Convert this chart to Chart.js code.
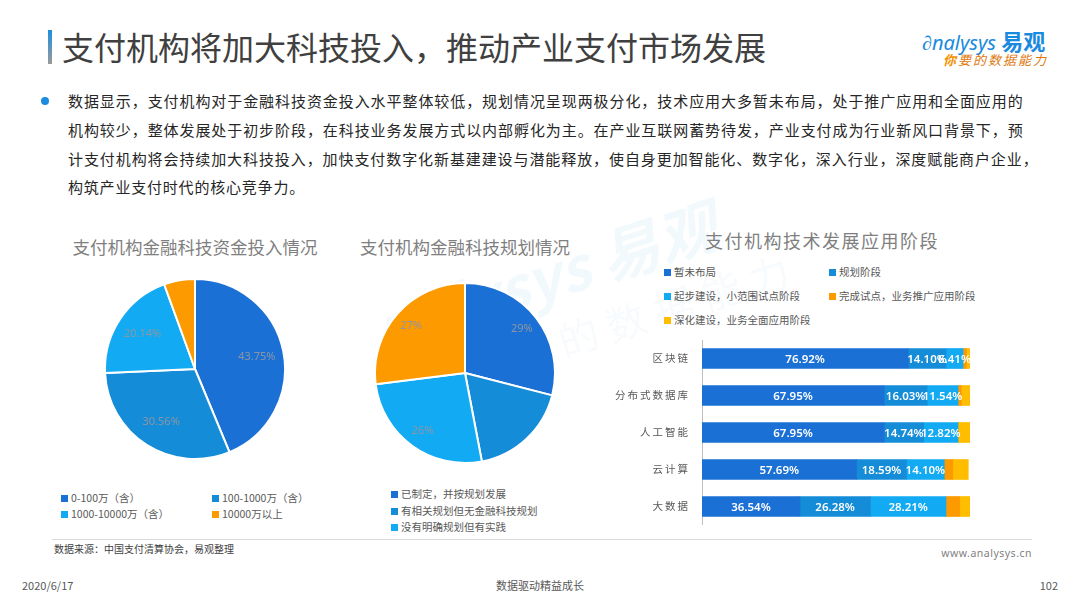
<!DOCTYPE html>
<html>
<head>
<meta charset="utf-8">
<script src="https://cdn.jsdelivr.net/npm/chart.js@4.4.0/dist/chart.umd.min.js"></script>
<style>
body { margin: 0; background: #fff; font-family: "Noto Sans CJK SC", "Noto Sans", sans-serif; }
#page { position: relative; width: 1080px; height: 608px; overflow: hidden; background: #fff; }
.abs { position: absolute; white-space: nowrap; }
.para { left: 68px; width: 960px; font-size: 15px; line-height: 20px; color: #262626; letter-spacing: 0.3px; text-align: justify; text-align-last: justify; }
.ctitle { font-size: 17.5px; color: #7f7f7f; text-align: center; line-height: 24px; }
.leg { font-size: 10.5px; color: #595959; line-height: 14px; }
.leg i { display: inline-block; width: 7px; height: 7px; margin-right: 3px; vertical-align: 0px; }
canvas { position: absolute; }
</style>
</head>
<body>
<div id="page">

  <!-- faint watermark behind everything -->
  <div class="abs" style="left:350px; top:292px; transform:rotate(-18deg); transform-origin:left top; color:rgba(25,140,220,0.055); font-size:60px; font-weight:bold; font-style:italic; font-family:'Noto Sans CJK SC';">&nbsp;nalysys 易观</div>
  <div class="abs" style="left:455px; top:345px; transform:rotate(-18deg); transform-origin:left top; color:rgba(25,140,220,0.055); font-size:40px; font-family:'Noto Sans CJK SC'; letter-spacing:10px;">你要的数据能力</div>

  <div class="abs" style="left:48px; top:30px; width:4px; height:34px; background:linear-gradient(#1e8fe0, #9a9a9a);"></div>
  <div class="abs" style="left:62px; top:27px; font-size:32px; line-height:38px; color:#404040;">支付机构将加大科技投入，推动产业支付市场发展</div>

  <div class="abs" style="left:922px; top:27px; font-size:20px; line-height:26px; color:#1a8ae0; font-style:italic; font-family:'Noto Sans';">&#x2202;nalysys <b style="font-style:normal; font-family:'Noto Sans CJK SC'; font-size:22px;">易观</b></div>
  <div class="abs" style="left:943px; top:52px; font-size:13px; line-height:16px; color:#e07a10; font-style:italic; letter-spacing:2px;"><span style="color:#f59000; font-weight:bold;">你</span>要的数据能力</div>

  <div class="abs" style="left:41px; top:97px; width:8px; height:8px; border-radius:50%; background:#1a8be0;"></div>
  <div class="abs para" style="top:91px; width:955px;">数据显示，支付机构对于金融科技资金投入水平整体较低，规划情况呈现两极分化，技术应用大多暂未布局，处于推广应用和全面应用的</div>
  <div class="abs para" style="top:120px; width:955px;">机构较少，整体发展处于初步阶段，在科技业务发展方式以内部孵化为主。在产业互联网蓄势待发，产业支付成为行业新风口背景下，预</div>
  <div class="abs para" style="top:149px; width:970px;">计支付机构将会持续加大科技投入，加快支付数字化新基建建设与潜能释放，使自身更加智能化、数字化，深入行业，深度赋能商户企业，</div>
  <div class="abs" style="left:68px; top:177px; font-size:15px; line-height:20px; color:#262626; letter-spacing:0.8px;">构筑产业支付时代的核心竞争力。</div>

  <div class="abs ctitle" style="left:45px; width:300px; top:235px;">支付机构金融科技资金投入情况</div>
  <div class="abs ctitle" style="left:315px; width:300px; top:235px;">支付机构金融科技规划情况</div>
  <div class="abs ctitle" style="left:672px; width:300px; top:228px; font-size:18px; letter-spacing:1.5px;">支付机构技术发展应用阶段</div>

  <canvas id="investPie" style="left:104px; top:278px;"></canvas>
  <canvas id="planPie" style="left:374px; top:282px;"></canvas>
  <canvas id="stageBar" style="left:600px; top:340px;"></canvas>

  <div id="investLegend"></div>
  <div id="planLegend"></div>
  <div id="stageLegend"></div>

  <div class="abs" style="left:52px; top:539px; width:980px; height:1px; background:#d9d9d9;"></div>
  <div class="abs" style="left:54px; top:542px; font-size:10px; line-height:14px; color:#404040;">数据来源：中国支付清算协会，易观整理</div>
  <div class="abs" style="right:48px; top:546px; font-size:10.5px; line-height:14px; color:#7f7f7f; font-family:'Noto Sans'; letter-spacing:0.5px;">www.analysys.cn</div>
  <div class="abs" style="left:22px; top:577px; font-size:11px; line-height:16px; color:#595959;">2020/6/17</div>
  <div class="abs" style="left:440px; width:200px; text-align:center; top:577px; font-size:11px; line-height:16px; color:#595959;">数据驱动精益成长</div>
  <div class="abs" style="right:22px; top:577px; font-size:11px; line-height:16px; color:#595959;">102</div>
</div>

<script>
// colours used by all three charts
var dark = "#1a70d4";
var mid = "#148cd8";
var light = "#12aaf2";
var orange = "#fd9a00";
var yellow = "#ffbd00";

// pie 1: investment
var investLabels = ["0-100万（含）", "100-1000万（含）", "1000-10000万（含）", "10000万以上"];
var investValues = [43.75, 30.56, 20.14, 5.56];
var investColors = [dark, mid, light, orange];

// pie 2: planning
var planLabels = ["已制定，并按规划发展", "有相关规划但无金融科技规划", "没有明确规划但有实践", "暂无规划"];
var planValues = [29, 18, 26, 27];
var planColors = [dark, mid, light, orange];

// stacked bars: tech stage
var techLabels = ["区块链", "分布式数据库", "人工智能", "云计算", "大数据"];
var stageLabels = ["暂未布局", "规划阶段", "起步建设，小范围试点阶段", "完成试点，业务推广应用阶段", "深化建设，业务全面应用阶段"];
var stageNotYet = [76.92, 67.95, 67.95, 57.69, 36.54];
var stagePlan = [14.10, 16.03, 14.74, 18.59, 26.28];
var stageStart = [6.41, 11.54, 12.82, 14.10, 28.21];
var stagePromote = [1.28, 1.28, 0, 3.21, 5.13];
var stageFull = [1.29, 3.20, 4.49, 5.77, 3.85];
var stageColors = [dark, mid, light, orange, yellow];

function makeCanvas(id, w, h) {
  var c = document.getElementById(id);
  c.style.width = w + "px";
  c.style.height = h + "px";
  c.width = w;
  c.height = h;
  return c;
}

// html legend, one spot per entry
function legend(boxId, labels, colors, spots) {
  var box = document.getElementById(boxId);
  var html = "";
  for (var i = 0; i < spots.length; i++) {
    var s = spots[i];
    html += '<div class="abs leg" style="left:' + s[0] + 'px; top:' + s[1] + 'px;"><i style="background:' + colors[i] + ';"></i>' + labels[i] + '</div>';
  }
  box.innerHTML = html;
}

var pieLabels = {
  id: "pieLabels",
  afterDatasetsDraw: function (chart, args, opts) {
    var ctx = chart.ctx;
    var meta = chart.getDatasetMeta(0);
    var values = chart.data.datasets[0].data;
    ctx.save();
    ctx.font = '11px "Noto Sans"';
    ctx.fillStyle = "#8c96a3";
    ctx.textAlign = "center";
    ctx.textBaseline = "middle";
    meta.data.forEach(function (arc, i) {
      if (opts.hide.indexOf(i) >= 0) return;
      var p = arc.getProps(["x", "y", "startAngle", "endAngle", "outerRadius"], true);
      var a = (p.startAngle + p.endAngle) / 2;
      var r = p.outerRadius * opts.dist;
      ctx.fillText(values[i].toFixed(opts.decimals) + "%", p.x + Math.cos(a) * r, p.y + Math.sin(a) * r);
    });
    ctx.restore();
  }
};

function pie(id, labels, values, colors, labelOpts) {
  var c = makeCanvas(id, 182, 182);
  return new Chart(c.getContext("2d"), {
    type: "pie",
    data: {
      labels: labels,
      datasets: [{ data: values, backgroundColor: colors, borderColor: "#fff", borderWidth: 2 }]
    },
    options: {
      responsive: false,
      animation: false,
      layout: { padding: 0 },
      plugins: { legend: { display: false }, tooltip: { enabled: false }, pieLabels: labelOpts }
    },
    plugins: [pieLabels]
  });
}

pie("investPie", investLabels, investValues, investColors, { dist: 0.7, decimals: 2, hide: [3] });
pie("planPie", planLabels, planValues, planColors, { dist: 0.8, decimals: 0, hide: [1] });

legend("investLegend", investLabels, investColors, [[61, 491], [212, 491], [61, 507], [212, 507]]);
legend("planLegend", planLabels, planColors, [[391, 487], [391, 504], [391, 520]]);
legend("stageLegend", stageLabels, stageColors, [[664, 265], [829, 265], [664, 289], [829, 289], [664, 313]]);

// white value text in the first three segments, spaced tick labels
var barLabels = {
  id: "barLabels",
  beforeDraw: function (chart) {
    chart.ctx.letterSpacing = "2px";
  },
  beforeDatasetsDraw: function (chart) {
    chart.ctx.letterSpacing = "0px";
  },
  afterDatasetsDraw: function (chart) {
    var ctx = chart.ctx;
    ctx.save();
    ctx.font = '600 11.5px "Noto Sans"';
    ctx.fillStyle = "#fff";
    ctx.textAlign = "center";
    ctx.textBaseline = "middle";
    for (var d = 0; d < 3; d++) {
      var meta = chart.getDatasetMeta(d);
      meta.data.forEach(function (bar, i) {
        var p = bar.getProps(["x", "y", "base"], true);
        var v = chart.data.datasets[d].data[i];
        ctx.fillText(v.toFixed(2) + "%", (p.x + p.base) / 2, p.y + 1);
      });
    }
    ctx.restore();
  }
};

var stageData = [stageNotYet, stagePlan, stageStart, stagePromote, stageFull];
var bc = makeCanvas("stageBar", 370, 185);
new Chart(bc.getContext("2d"), {
  type: "bar",
  data: {
    labels: techLabels,
    datasets: stageData.map(function (vals, k) {
      return { label: stageLabels[k], data: vals, backgroundColor: stageColors[k], barThickness: 20, borderWidth: 0 };
    })
  },
  options: {
    indexAxis: "y",
    responsive: false,
    animation: false,
    layout: { padding: 0 },
    scales: {
      x: { stacked: true, min: 0, max: 100, display: false },
      y: {
        stacked: true,
        grid: { display: false, drawTicks: false },
        border: { display: true, color: "#bfbfbf", width: 1 },
        ticks: { color: "#595959", font: { size: 10.5, family: "Noto Sans CJK SC" }, padding: 12 },
        afterFit: function (scale) {
          scale.width = 102;
          scale.paddingTop = 0;
          scale.paddingBottom = 0;
        }
      }
    },
    plugins: { legend: { display: false }, tooltip: { enabled: false } }
  },
  plugins: [barLabels]
});
</script>
</body>
</html>
